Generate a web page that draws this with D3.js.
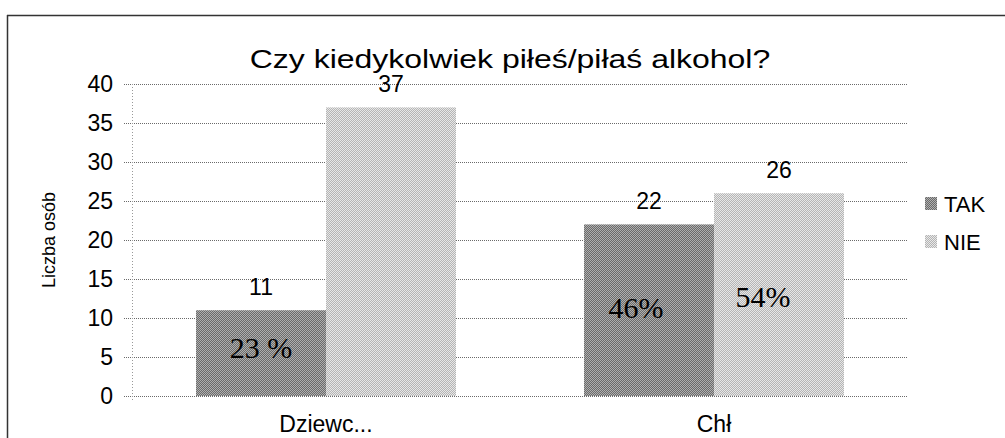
<!DOCTYPE html>
<html>
<head>
<meta charset="utf-8">
<script src="https://cdn.jsdelivr.net/npm/d3@7"></script>
<style>
  body { margin: 0; background: #fff; }
  text { font-family: "Liberation Sans", Arial, sans-serif; fill: #000; }
</style>
</head>
<body>
<svg id="chart" width="1005" height="438"></svg>
<script>
// data
var categories = ["Dziewc...", "Chł"];
var seriesNames = ["TAK", "NIE"];
var takValues = [11, 22];
var nieValues = [37, 26];
var takPercent = ["23 %", "46%"];
var niePercent = [null, "54%"];
var yTicks = [0, 5, 10, 15, 20, 25, 30, 35, 40];

var svg = d3.select("#chart"),
    width = +svg.attr("width"),
    height = +svg.attr("height");

var margin = { left: 132, right: 97, top: 84, bottom: 42 };

// halftone-ish fills
var defs = svg.append("defs");
function checker(id, a, b) {
    var p = defs.append("pattern")
        .attr("id", id)
        .attr("width", 2).attr("height", 2)
        .attr("patternUnits", "userSpaceOnUse");
    p.append("rect").attr("width", 2).attr("height", 2).attr("fill", a);
    p.append("rect").attr("width", 1).attr("height", 1).attr("fill", b);
    p.append("rect").attr("x", 1).attr("y", 1).attr("width", 1).attr("height", 1).attr("fill", b);
}
checker("fillTak", "#6a6a6a", "#b0b0b0");
checker("fillNie", "#b4b4b4", "#e8e8e8");
var fills = ["url(#fillTak)", "url(#fillNie)"];

// frame
svg.append("line").attr("x1", 7).attr("x2", width).attr("y1", 15.5).attr("y2", 15.5)
    .attr("stroke", "#333").attr("stroke-width", 1.5);
svg.append("line").attr("x1", 7.5).attr("x2", 7.5).attr("y1", 15).attr("y2", height)
    .attr("stroke", "#333").attr("stroke-width", 1.5);

var x0 = d3.scaleBand()
    .domain(categories)
    .range([margin.left, width - margin.right])
    .paddingInner(0.33)
    .paddingOuter(0.165);

var x1 = d3.scaleBand()
    .domain(seriesNames)
    .range([0, x0.bandwidth()]);

var y = d3.scaleLinear()
    .domain([0, 40])
    .range([height - margin.bottom, margin.top]);

// gridlines
svg.append("g")
    .selectAll("line")
    .data(yTicks)
    .enter().append("line")
    .attr("x1", margin.left - 8)
    .attr("x2", width - margin.right)
    .attr("y1", function (d) { return Math.round(y(d)) + 0.5; })
    .attr("y2", function (d) { return Math.round(y(d)) + 0.5; })
    .attr("stroke", "#6a6a6a")
    .attr("stroke-width", 1)
    .attr("stroke-dasharray", "1,1");

// y axis line (dotted)
svg.append("line")
    .attr("x1", margin.left + 0.5).attr("x2", margin.left + 0.5)
    .attr("y1", y(40)).attr("y2", y(0) + 4)
    .attr("stroke", "#999").attr("stroke-dasharray", "1,2");

// tick labels
svg.append("g")
    .selectAll("text")
    .data(yTicks)
    .enter().append("text")
    .attr("x", 113)
    .attr("y", function (d) { return y(d); })
    .attr("dy", "0.36em")
    .attr("text-anchor", "end")
    .style("font-size", "23px")
    .text(function (d) { return d; });

// bars
var rows = categories.map(function (c, i) {
    return [
        { cat: c, i: i, s: 0, v: takValues[i], pct: takPercent[i] },
        { cat: c, i: i, s: 1, v: nieValues[i], pct: niePercent[i] }
    ];
});

var groups = svg.append("g")
    .selectAll("g")
    .data(rows)
    .enter().append("g")
    .attr("transform", function (d) { return "translate(" + x0(d[0].cat) + ",0)"; });

groups.selectAll("rect")
    .data(function (d) { return d; })
    .enter().append("rect")
    .attr("x", function (d) { return x1(seriesNames[d.s]); })
    .attr("y", function (d) { return y(d.v); })
    .attr("width", x1.bandwidth())
    .attr("height", function (d) { return y(0) - y(d.v); })
    .attr("fill", function (d) { return fills[d.s]; });

// value labels
groups.selectAll("text.val")
    .data(function (d) { return d; })
    .enter().append("text")
    .attr("class", "val")
    .attr("x", function (d) { return x1(seriesNames[d.s]) + x1.bandwidth() / 2; })
    .attr("y", function (d) { return y(d.v) - 15; })
    .attr("text-anchor", "middle")
    .style("font-size", "23px")
    .text(function (d) { return d.v; });

// percentage labels inside the bars (offsets from bar centre / bar top, px)
var pctDx = [[0, 0], [-13, -16]];
var pctDy = [[48, 0], [94, 114]];
groups.selectAll("text.pct")
    .data(function (d) { return d.filter(function (e) { return e.pct; }); })
    .enter().append("text")
    .attr("class", "pct")
    .attr("x", function (d) { return x1(seriesNames[d.s]) + x1.bandwidth() / 2 + pctDx[d.i][d.s]; })
    .attr("y", function (d) { return y(d.v) + pctDy[d.i][d.s]; })
    .attr("text-anchor", "middle")
    .style("font-family", "'Liberation Serif', 'Times New Roman', serif")
    .style("font-size", "30px")
    .text(function (d) { return d.pct; });

// category labels
svg.append("g")
    .selectAll("text")
    .data(categories)
    .enter().append("text")
    .attr("x", function (d) { return x0(d) + x0.bandwidth() / 2; })
    .attr("y", 432)
    .attr("text-anchor", "middle")
    .style("font-size", "23px")
    .text(function (d) { return d; });

// y label
svg.append("text")
    .attr("transform", "translate(55,240) rotate(-90)")
    .attr("text-anchor", "middle")
    .style("font-size", "18px")
    .text("Liczba osób");

// title (the original is a little stretched sideways)
svg.append("text")
    .attr("transform", "translate(510,68) scale(1.23,1)")
    .attr("text-anchor", "middle")
    .style("font-size", "26px")
    .text("Czy kiedykolwiek piłeś/piłaś alkohol?");

// legend
var legend = svg.append("g")
    .selectAll("g")
    .data(seriesNames)
    .enter().append("g")
    .attr("transform", function (d, i) { return "translate(925," + (197 + i * 38) + ")"; });

legend.append("rect")
    .attr("width", 12).attr("height", 13)
    .attr("fill", function (d, i) { return fills[i]; });

legend.append("text")
    .attr("x", 19)
    .attr("y", 7)
    .attr("dy", "0.36em")
    .style("font-size", "22px")
    .text(function (d) { return d; });
</script>
</body>
</html>
